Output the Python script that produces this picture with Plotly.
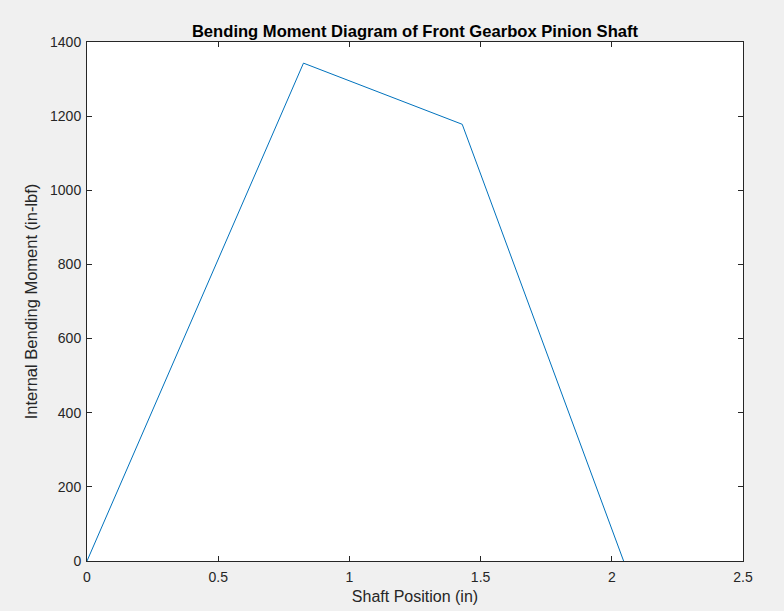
import plotly.graph_objects as go

position_in = [0, 0.825, 1.43, 2.045]
moment_inlbf = [0, 1343, 1178, 0]

x_ticks = [0, 0.5, 1, 1.5, 2, 2.5]
x_tick_labels = ["0", "0.5", "1", "1.5", "2", "2.5"]
y_ticks = [0, 200, 400, 600, 800, 1000, 1200, 1400]

FONT = "Liberation Sans, Arial, Helvetica, sans-serif"

fig = go.Figure()
fig.add_trace(go.Scatter(x=position_in, y=moment_inlbf, mode="lines",
                         line=dict(color="#0072BD", width=1), showlegend=False))

axis_common = dict(showgrid=False, zeroline=False, showline=True, linecolor="#262626",
                   linewidth=1, mirror="ticks", ticks="inside", ticklen=5, tickcolor="#262626",
                   automargin=False,
                   tickfont=dict(family=FONT, size=14, color="#262626"))

fig.update_layout(
    width=784, height=611,
    paper_bgcolor="#f0f0f0", plot_bgcolor="white",
    margin=dict(l=87, r=41, t=42, b=50),
    title=dict(text="<b>Bending Moment Diagram of Front Gearbox Pinion Shaft</b>",
               x=0.5, xanchor="center", xref="paper", y=1, yref="paper", yanchor="bottom",
               pad=dict(b=5),
               font=dict(family=FONT, size=16.6, color="black")),
    xaxis=dict(range=[0, 2.5], tickvals=x_ticks, ticktext=x_tick_labels,
               ticklabelstandoff=3,
               title=dict(text="Shaft Position (in)", standoff=7,
                          font=dict(family=FONT, size=16, color="#262626")),
               **axis_common),
    yaxis=dict(range=[0, 1400], tickvals=y_ticks,
               ticklabelstandoff=2,
               title=dict(text="Internal Bending Moment (in-lbf)", standoff=8,
                          font=dict(family=FONT, size=16.5, color="#262626")),
               **axis_common),
)

fig.write_html("out.html", config={"displayModeBar": False},
               post_script="document.body.style.margin='0';document.body.style.background='#f0f0f0';")
